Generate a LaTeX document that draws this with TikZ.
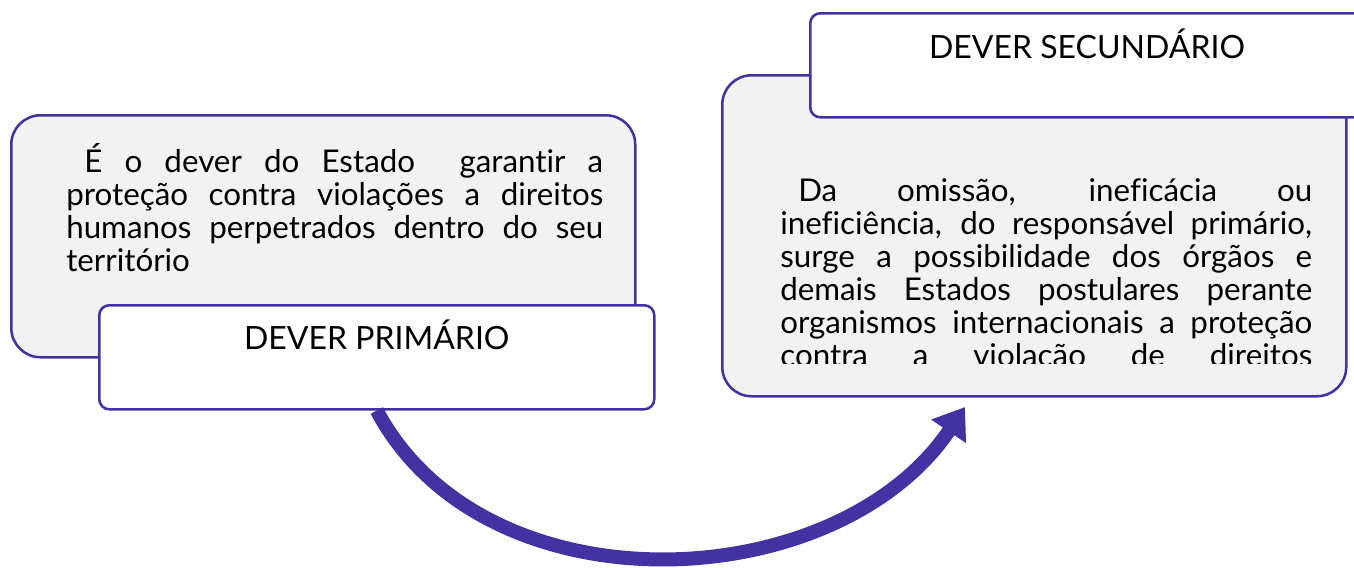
\documentclass[tikz,border=0pt]{standalone}
\usepackage{fontspec}
\setmainfont{Lato}[Ligatures=NoCommon]
\usetikzlibrary{arrows.meta,positioning}
\definecolor{dutyline}{RGB}{67,50,162}
\definecolor{dutyfill}{RGB}{242,242,242}

\begin{document}
\begin{tikzpicture}[x=0.75pt,y=-0.75pt,
  bigbox/.style={draw=dutyline,line width=1.9pt,fill=dutyfill,rounded corners=22pt,anchor=north west},
  tagbox/.style={draw=dutyline,line width=1.9pt,fill=white,rounded corners=7.5pt,anchor=north west},
  bodytext/.style={inner sep=0pt,anchor=base west,align=justify,font=\fontsize{23.5}{24.75}\selectfont},
  tagtext/.style={inner sep=0pt,anchor=base,font=\fontsize{24}{24.75}\selectfont},
  bigarrow/.style={draw=dutyline,line width=10.5pt,-{Triangle[width=30pt,length=22pt]}}]
\useasboundingbox (0,0) rectangle (1354,568);
\node[bigbox,minimum width=624*0.75pt,minimum height=242*0.75pt] (primbox) at (10,114) {};
\node[bodytext,text width=537*0.75pt] (primbody) at (66,172)
  {\hspace*{13.5pt}É o dever do Estado \ garantir a\linebreak
   proteção contra violações a direitos\linebreak
   humanos perpetrados dentro do seu\linebreak
   território};
\node[tagbox,minimum width=555*0.75pt,minimum height=104*0.75pt] (primtag) at (98,304) {};
\node[tagtext] (primtitle) at ([yshift=-45*0.75pt]primtag.north) {DEVER PRIMÁRIO};
\node[bigbox,minimum width=624*0.75pt,minimum height=321*0.75pt] (secbox) at (721,74) {};
\begin{scope}
\clip (740,150) rectangle (1330,363);
\node[bodytext,text width=532*0.75pt] (secbody) at (780,201)
  {\hspace*{13.5pt}Da omissão, ineficácia ou\linebreak
   ineficiência, do responsável primário,\linebreak
   surge a possibilidade dos órgãos e\linebreak
   demais Estados postulares perante\linebreak
   organismos internacionais a proteção\linebreak
   contra a violação de direitos\linebreak\mbox{}};
\end{scope}
\node[tagbox,minimum width=570*0.75pt,minimum height=104*0.75pt] (sectag) at (809,12) {};
\node[tagtext] (sectitle) at ([yshift=-46*0.75pt]sectag.north -| 1087,0) {DEVER SECUNDÁRIO};
\coordinate (arrowtip) at (965,407);
\draw[bigarrow] (primtag.south) to[out=-62,in=-124] (arrowtip);
\end{tikzpicture}
\end{document}
